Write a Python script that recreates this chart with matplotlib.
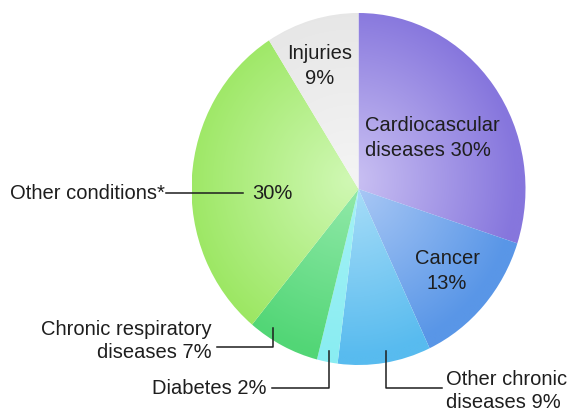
import numpy as np
import matplotlib.pyplot as plt
from matplotlib.colors import to_rgb

plt.rcParams['font.family'] = ['Liberation Sans', 'DejaVu Sans']

# data, clockwise from 12 o'clock
labels = ['Cardiocascular\ndiseases 30%', 'Cancer\n13%', 'Other chronic\ndiseases 9%',
          'Diabetes 2%', 'Chronic respiratory\ndiseases 7%', 'Other conditions*', 'Injuries\n9%']
values = [30, 13, 9, 2, 7, 30, 9]
inner_colors = ['#cbc2f3', '#aecbf6', '#acdff8', '#a6f2f6', '#94eaab', '#d0f8b4', '#f4f4f4']
outer_colors = ['#8676dd', '#5996e7', '#58bbef', '#8aedf2', '#52d676', '#9ce763', '#e6e6e6']

fig = plt.figure(figsize=(5.75, 4.12), dpi=100)
ax = fig.add_axes([0, 0, 1, 1])
wedges, _ = ax.pie(values, startangle=90, counterclock=False,
                   wedgeprops=dict(facecolor='none', linewidth=0))

# radial gradient fill for each wedge
n = 400
g = np.linspace(-1, 1, n)
X, Y = np.meshgrid(g, g)
R = np.clip(np.hypot(X + 0.05, Y - 0.05) / 1.0, 0, 1)[..., None]
for w, c0, c1 in zip(wedges, inner_colors, outer_colors):
    c0 = np.array(to_rgb(c0))
    c1 = np.array(to_rgb(c1))
    img = c0 + (c1 - c0) * R
    im = ax.imshow(img, extent=(-1, 1, -1, 1), origin='lower',
                   interpolation='bilinear', aspect='auto', zorder=1)
    im.set_clip_path(w)

# pie is drawn slightly taller than wide
ax.set_aspect('auto')
ax.set_xlim(-358.5 / 167, (575 - 358.5) / 167)
ax.set_ylim(-(412 - 189) / 176, 189 / 176)
ax.axis('off')

# overlay in pixel coordinates for labels and leader lines
ov = fig.add_axes([0, 0, 1, 1])
ov.set_xlim(0, 575)
ov.set_ylim(412, 0)
ov.axis('off')

fs = 14.5
tc = '#1e1e1e'
kw = dict(fontsize=fs, color=tc, linespacing=1.4)

ov.text(365, 138, labels[0], ha='left', va='center', **kw)
ov.text(447, 271, labels[1], ha='center', va='center', **kw)
ov.text(446, 391, labels[2], ha='left', va='center', linespacing=1.25,
        fontsize=fs, color=tc)
ov.text(266, 388, labels[3], ha='right', va='center', **kw)
ov.text(212, 341, labels[4], ha='right', va='center', multialignment='right',
        fontsize=fs, color=tc, linespacing=1.3)
ov.text(165, 193, labels[5], ha='right', va='center', **kw)
ov.text(272, 193, '30%', ha='center', va='center', **kw)
ov.text(320, 66, labels[6], ha='center', va='center', **kw)

lkw = dict(color='#1e1e1e', lw=1.1)
ov.plot([166, 243], [193, 193], **lkw)
ov.plot([217, 273, 273], [347, 347, 328], **lkw)
ov.plot([272, 329, 329], [388, 388, 351], **lkw)
ov.plot([442, 386, 386], [388, 388, 351], **lkw)

fig.savefig('out.png', dpi=100, facecolor='white')
